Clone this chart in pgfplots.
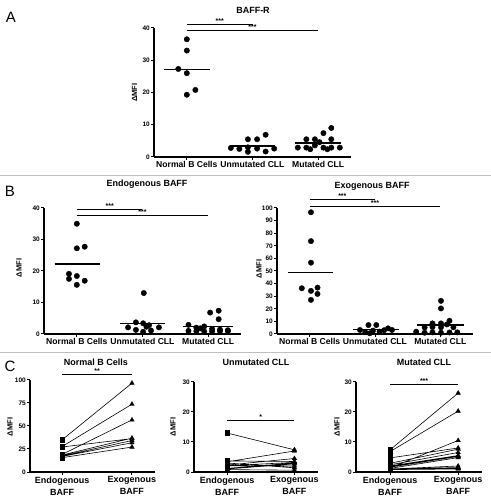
\documentclass[border=0pt]{standalone}
\usepackage{fontspec}
\setmainfont{Liberation Sans}
\usepackage{pgfplots}
\pgfplotsset{compat=1.18}
\newcommand{\fsz}[1]{\fontsize{#1bp}{#1bp}\selectfont}
\tikzset{sigstar/.style={font=\bfseries\fsz{7}, inner sep=0.5bp, anchor=south}}
\pgfplotsset{
 prism/.style={
   scale only axis,
   anchor=south west,
   axis lines=left,
   axis line style={-, line width=1.2bp},
   tick align=outside,
   major tick length=3bp,
   tick style={black, line width=1bp},
   yticklabel style={font=\bfseries\fsz{6.5}, inner sep=1bp},
   xticklabel style={font=\bfseries\fontsize{8.6bp}{11.5bp}\selectfont, inner sep=1.5bp, align=center},
   /pgf/number format/assume math mode=true,
   clip=false,
   ymin=0,
   unbounded coords=jump,
 },
 dots/.style={only marks, mark=*, mark size=2.7bp, black},
 med/.style={black, line width=1.3bp, no marks},
 brk/.style={black, line width=0.9bp, no marks},
 pair/.style={black, line width=0.6bp, no marks},
 sq/.style={only marks, mark=square*, mark size=2.3bp, black},
 tri/.style={only marks, mark=triangle*, mark size=2.6bp, black},
}
\begin{document}
\begin{tikzpicture}
\useasboundingbox (0,0) rectangle (491bp,500bp);
% separators
\draw[black!25, line width=0.8bp] (0,325bp) -- (491bp,325bp);
\draw[black!25, line width=0.8bp] (0,148bp) -- (491bp,148bp);
% panel letters
\node[font=\fsz{15}] at (11bp,483bp) {A};
\node[font=\fsz{15}] at (10bp,309bp) {B};
\node[font=\fsz{15}] at (10bp,134bp) {C};
% titles
\node[font=\bfseries\fsz{9}] at (253bp,489.5bp) {BAFF-R};
\node[font=\bfseries\fsz{9}] at (147bp,316bp) {Endogenous BAFF};
\node[font=\bfseries\fsz{9}] at (372bp,314bp) {Exogenous BAFF};
\node[font=\bfseries\fsz{9}] at (96bp,138bp) {Normal B Cells};
\node[font=\bfseries\fsz{9}] at (256bp,138bp) {Unmutated CLL};
\node[font=\bfseries\fsz{9}] at (424bp,138bp) {Mutated CLL};
% y labels
\node[font=\bfseries\fsz{7.5}, rotate=90] at (134.5bp,407.5bp) {ΔMFI};
\node[font=\bfseries\fsz{7.5}, rotate=90] at (19bp,232bp) {ΔMFI};
\node[font=\bfseries\fsz{7.5}, rotate=90] at (259bp,231bp) {ΔMFI};
\node[font=\bfseries\fsz{7.5}, rotate=90] at (10bp,73bp) {ΔMFI};
\node[font=\bfseries\fsz{7.5}, rotate=90] at (173bp,73bp) {ΔMFI};
\node[font=\bfseries\fsz{7.5}, rotate=90] at (337bp,73bp) {ΔMFI};

% ---------------- Panel A: BAFF-R
\begin{axis}[prism, at={(154bp,343bp)}, width=197bp, height=129bp,
  xmin=-0.5, xmax=2.5, ymax=40, ytick={0,10,20,30,40},
  xtick={0,1,2}, xticklabels={Normal B Cells,Unmutated CLL,Mutated CLL}]
\addplot[dots] coordinates {(0,36.5)(0,33.0)(-0.13,27.3)(0,26.0)(0.13,20.8)(0,19.3)};
\addplot[dots] coordinates {(0.93,5.5)(1.07,5.5)(1.2,6.9)(0.67,2.8)(0.8,2.5)(0.93,3.0)(1.07,2.6)(1.33,2.6)(0.93,1.6)(1.2,1.7)};
\addplot[dots] coordinates {(2.08,7.4)(2.2,9.0)(1.82,5.5)(1.95,5.5)(2.2,5.5)(2.02,4.6)(1.69,2.9)(1.82,2.9)(1.95,3.6)(2.08,2.9)(2.2,2.9)(2.33,2.9)(1.88,2.4)(2.14,2.4)};
\addplot[med] coordinates {(-0.35,27.2)(0.35,27.2)};
\addplot[med] coordinates {(0.65,3.4)(1.35,3.4)};
\addplot[med] coordinates {(1.65,4.3)(2.35,4.3)};
\addplot[brk] coordinates {(0,41.2)(1,41.2)};
\addplot[brk] coordinates {(0,39.3)(2,39.3)};
\node[sigstar] at (axis cs:0.5,41.2) {***};
\node[sigstar] at (axis cs:1,39.3) {***};
\end{axis}

% ---------------- Panel B left: Endogenous
\begin{axis}[prism, at={(44bp,166bp)}, width=197bp, height=126bp,
  xmin=-0.5, xmax=2.5, ymax=40, ytick={0,10,20,30,40},
  xtick={0,1,2}, xticklabels={Normal B Cells,Unmutated CLL,Mutated CLL}]
\addplot[dots] coordinates {(0,35.0)(0,27.2)(0.12,27.7)(-0.12,19.1)(0,18.4)(-0.12,17.5)(0.12,16.9)(0,15.6)};
\addplot[dots] coordinates {(1.02,13.0)(0.9,3.7)(1.01,3.4)(1.1,2.8)(0.78,2.1)(1.06,2.3)(1.25,2.1)(0.9,1.3)(1.13,1.1)(1.01,0.7)};
\addplot[dots] coordinates {(2.16,7.4)(2.03,6.8)(2.16,4.7)(1.7,2.9)(1.82,2.0)(1.94,2.4)(2.06,1.6)(2.18,1.4)(2.3,1.2)(1.7,1.0)(1.82,0.9)(1.94,0.8)(2.06,0.8)(2.18,0.9)(2.3,0.9)(1.88,1.8)};
\addplot[med] coordinates {(-0.34,22.2)(0.36,22.2)};
\addplot[med] coordinates {(0.65,3.3)(1.35,3.3)};
\addplot[med] coordinates {(1.62,2.3)(2.38,2.3)};
\addplot[brk] coordinates {(0,39.5)(1,39.5)};
\addplot[brk] coordinates {(0,37.6)(2,37.6)};
\node[sigstar] at (axis cs:0.5,39.5) {***};
\node[sigstar] at (axis cs:1,37.6) {***};
\end{axis}

% ---------------- Panel B right: Exogenous
\begin{axis}[prism, at={(277bp,166bp)}, width=196bp, height=126bp,
  xmin=-0.5, xmax=2.5, ymax=100, ytick={0,10,...,100},
  xtick={0,1,2}, xticklabels={Normal B Cells,Unmutated CLL,Mutated CLL}]
\addplot[dots] coordinates {(0.02,96.6)(0.02,73.7)(0.02,56.6)(-0.12,36.3)(0.12,36.8)(0.02,34.2)(0.12,31.8)(0.02,27.1)};
\addplot[dots] coordinates {(0.77,3.2)(0.9,7.1)(1.02,7.1)(1.2,4.5)(1.26,3.2)(0.97,2.7)(1.07,1.9)(1.14,3.0)(0.85,1.4)(0.92,0.6)};
\addplot[dots] coordinates {(2.01,26.3)(2.01,20.3)(2.14,10.5)(1.88,8.4)(2.01,8.4)(2.1,7.6)(1.76,5.2)(1.88,5.5)(2.01,5.3)(2.2,5.3)(1.63,1.8)(1.76,1.0)(1.88,1.3)(2.01,1.0)(2.14,1.2)(2.26,1.3)};
\addplot[med] coordinates {(-0.33,48.9)(0.36,48.9)};
\addplot[med] coordinates {(0.66,3.7)(1.36,3.7)};
\addplot[med] coordinates {(1.64,7.1)(2.36,7.1)};
\addplot[brk] coordinates {(0,106.6)(1,106.6)};
\addplot[brk] coordinates {(0,101.6)(2,101.6)};
\node[sigstar] at (axis cs:0.5,106.6) {***};
\node[sigstar] at (axis cs:1,101.6) {***};
\end{axis}

% ---------------- Panel C: Normal B Cells
\begin{axis}[prism, at={(30bp,28bp)}, width=125bp, height=92bp,
  xmin=-0.46, xmax=1.33, ymax=100, ytick={0,25,50,75,100},
  xtick={0,1}, xticklabels={{Endogenous\\BAFF},{Exogenous\\BAFF}},
  xticklabel style={font=\bfseries\fontsize{9bp}{12bp}\selectfont}]
\addplot[pair] coordinates {(0,35.0)(1,96.6)(0.5,nan)(0,27.7)(1,73.7)(0.5,nan)(0,19.1)(1,56.6)(0.5,nan)(0,27.2)(1,36.3)(0.5,nan)(0,18.4)(1,36.8)(0.5,nan)(0,17.5)(1,34.2)(0.5,nan)(0,16.9)(1,31.8)(0.5,nan)(0,15.6)(1,27.1)};
\addplot[sq] coordinates {(0,35.0)(0,27.7)(0,19.1)(0,27.2)(0,18.4)(0,17.5)(0,16.9)(0,15.6)};
\addplot[tri] coordinates {(1,96.6)(1,73.7)(1,56.6)(1,36.3)(1,36.8)(1,34.2)(1,31.8)(1,27.1)};
\addplot[brk] coordinates {(0,106.5)(1,106.5)};
\node[sigstar] at (axis cs:0.5,106.5) {**};
\end{axis}

% ---------------- Panel C: Unmutated CLL
\begin{axis}[prism, at={(194bp,28bp)}, width=124bp, height=90bp,
  xmin=-0.49, xmax=1.35, ymax=30, ytick={0,10,20,30},
  xtick={0,1}, xticklabels={{Endogenous\\BAFF},{Exogenous\\BAFF}},
  xticklabel style={font=\bfseries\fontsize{9bp}{12bp}\selectfont}]
\addplot[pair] coordinates {(0,13.0)(1,7.4)(0.5,nan)(0,3.7)(1,3.5)(0.5,nan)(0,3.4)(1,7.0)(0.5,nan)(0,3.0)(1,1.4)(0.5,nan)(0,2.3)(1,4.5)(0.5,nan)(0,2.1)(1,3.2)(0.5,nan)(0,2.1)(1,2.0)(0.5,nan)(0,1.2)(1,3.0)(0.5,nan)(0,1.0)(1,2.7)(0.5,nan)(0,0.8)(1,0.6)};
\addplot[sq] coordinates {(0,13.0)(0,3.7)(0,3.4)(0,3.0)(0,2.3)(0,2.1)(0,2.1)(0,1.2)(0,1.0)(0,0.8)};
\addplot[tri] coordinates {(1,7.4)(1,3.5)(1,7.0)(1,1.4)(1,4.5)(1,3.2)(1,2.0)(1,3.0)(1,2.7)(1,0.6)};
\addplot[brk] coordinates {(0,17.2)(1,17.2)};
\node[sigstar] at (axis cs:0.5,17.2) {*};
\end{axis}

% ---------------- Panel C: Mutated CLL
\begin{axis}[prism, at={(356bp,28bp)}, width=126bp, height=90bp,
  xmin=-0.5, xmax=1.35, ymax=30, ytick={0,10,20,30},
  xtick={0,1}, xticklabels={{Endogenous\\BAFF},{Exogenous\\BAFF}},
  xticklabel style={font=\bfseries\fontsize{9bp}{12bp}\selectfont}]
\addplot[pair] coordinates {(0,7.4)(1,26.3)(0.5,nan)(0,6.8)(1,20.3)(0.5,nan)(0,1.4)(1,10.5)(0.5,nan)(0,4.7)(1,8.0)(0.5,nan)(0,2.9)(1,7.6)(0.5,nan)(0,2.4)(1,6.5)(0.5,nan)(0,2.0)(1,5.5)(0.5,nan)(0,1.8)(1,5.3)(0.5,nan)(0,1.6)(1,5.2)(0.5,nan)(0,1.2)(1,4.8)(0.5,nan)(0,1.0)(1,2.0)(0.5,nan)(0,0.9)(1,1.5)(0.5,nan)(0,0.8)(1,1.3)(0.5,nan)(0,0.8)(1,1.0)(0.5,nan)(0,0.9)(1,1.2)(0.5,nan)(0,1.0)(1,1.3)};
\addplot[sq] coordinates {(0,7.4)(0,6.8)(0,1.4)(0,4.7)(0,2.9)(0,2.4)(0,2.0)(0,1.8)(0,1.6)(0,1.2)(0,1.0)(0,0.9)(0,0.8)(0,0.8)(0,0.9)(0,1.0)};
\addplot[tri] coordinates {(1,26.3)(1,20.3)(1,10.5)(1,8.0)(1,7.6)(1,6.5)(1,5.5)(1,5.3)(1,5.2)(1,4.8)(1,2.0)(1,1.5)(1,1.3)(1,1.0)(1,1.2)(1,1.3)};
\addplot[brk] coordinates {(0,29.1)(1,29.1)};
\node[sigstar] at (axis cs:0.5,29.1) {***};
\end{axis}
\end{tikzpicture}
\end{document}
